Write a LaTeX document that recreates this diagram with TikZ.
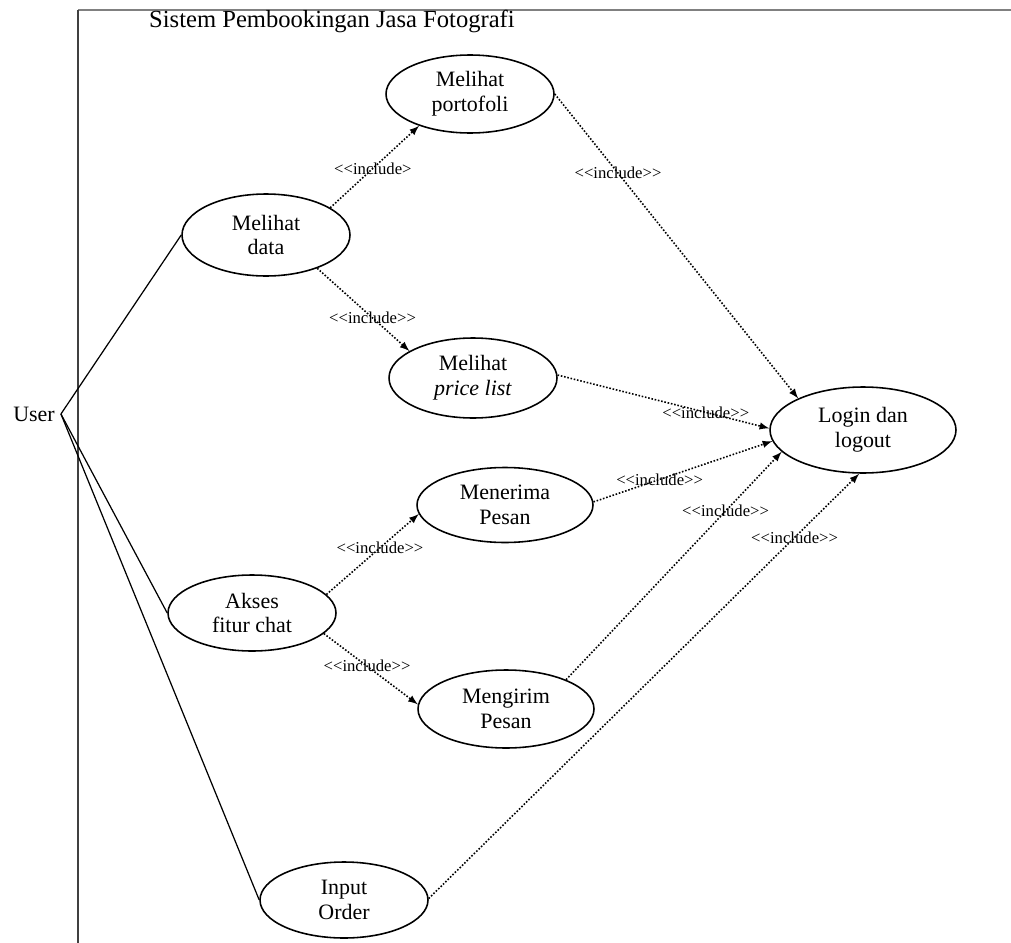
\documentclass[tikz,border=0pt]{standalone}
\usepackage{fontspec}
\setmainfont{Liberation Serif}[Ligatures=TeXOff]
\usepackage{tikz}
\usetikzlibrary{arrows,shapes}

\tikzset{
  usecase/.style={ellipse,draw,line width=0.9pt,inner sep=0pt,align=center,
    minimum width=3.36cm,minimum height=1.56cm,font=\fontsize{12.5}{14}\selectfont},
  incl/.style={densely dotted,line width=0.9pt,-latex},
  incltext/.style={font=\fontsize{9.5}{11}\selectfont,inner sep=1pt},
  assoc/.style={line width=0.7pt}
}

\begin{document}
\begin{tikzpicture}[x=0.02cm,y=-0.02cm]
\useasboundingbox (0,0) rectangle (1011,943);
% system boundary
\draw[gray,line width=1.5pt] (78,10) -- (1011,10);
\draw[black!75,line width=1pt] (78,10) -- (78,943);
\node[anchor=west,font=\fontsize{14}{16}\selectfont] (title) at (143,21) {Sistem Pembookingan Jasa Fotografi};

\node[font=\fontsize{12.5}{14}\selectfont] (user) at (34,414) {User};

\node[usecase] (porto) at (470,94) {Melihat\\portofoli};
\node[usecase,minimum height=1.64cm] (data) at (266,235) {Melihat\\data};
\node[usecase,minimum height=1.6cm] (price) at (473,378) {Melihat\\\textit{price list}};
\node[usecase,minimum width=3.72cm,minimum height=1.72cm] (login) at (863,430) {Login dan\\logout};
\node[usecase,minimum width=3.52cm,minimum height=1.5cm] (terima) at (505,505) {Menerima\\Pesan};
\node[usecase,minimum height=1.52cm] (akses) at (252,613) {Akses\\fitur chat};
\node[usecase,minimum width=3.52cm] (kirim) at (506,709) {Mengirim\\Pesan};
\node[usecase,minimum height=1.52cm] (order) at (344,900) {Input\\Order};

\draw[assoc] (user.east) -- (data.west);
\draw[assoc] (user.east) -- (akses.west);
\draw[assoc] (user.east) -- (order.west);

\draw[incl] (data.23) -- node[incltext,pos=0.48] {<<include>} (porto.212);
\draw[incl] (data.327) -- node[incltext,pos=0.6] {<<include>>} (price.157);
\draw[incl] (porto.0) -- node[incltext,pos=0.26] {<<include>>} (login.154);
\draw[incl] (price.2) -- node[incltext,pos=0.7] {<<include>>} (login.179);
\draw[incl] (terima.2) -- node[incltext,pos=0.37] {<<include>>} (login.187);
\draw[incl] (kirim.26) -- node[incltext,pos=0.74] {<<include>>} (login.195);
\draw[incl] (order.1) -- node[incltext,pos=0.85] {<<include>>} (login.265);
\draw[incl] (akses.14) -- node[incltext,pos=0.58] {<<include>>} (terima.186);
\draw[incl] (akses.344) -- node[incltext,pos=0.46] {<<include>>} (kirim.177);
\end{tikzpicture}
\end{document}
